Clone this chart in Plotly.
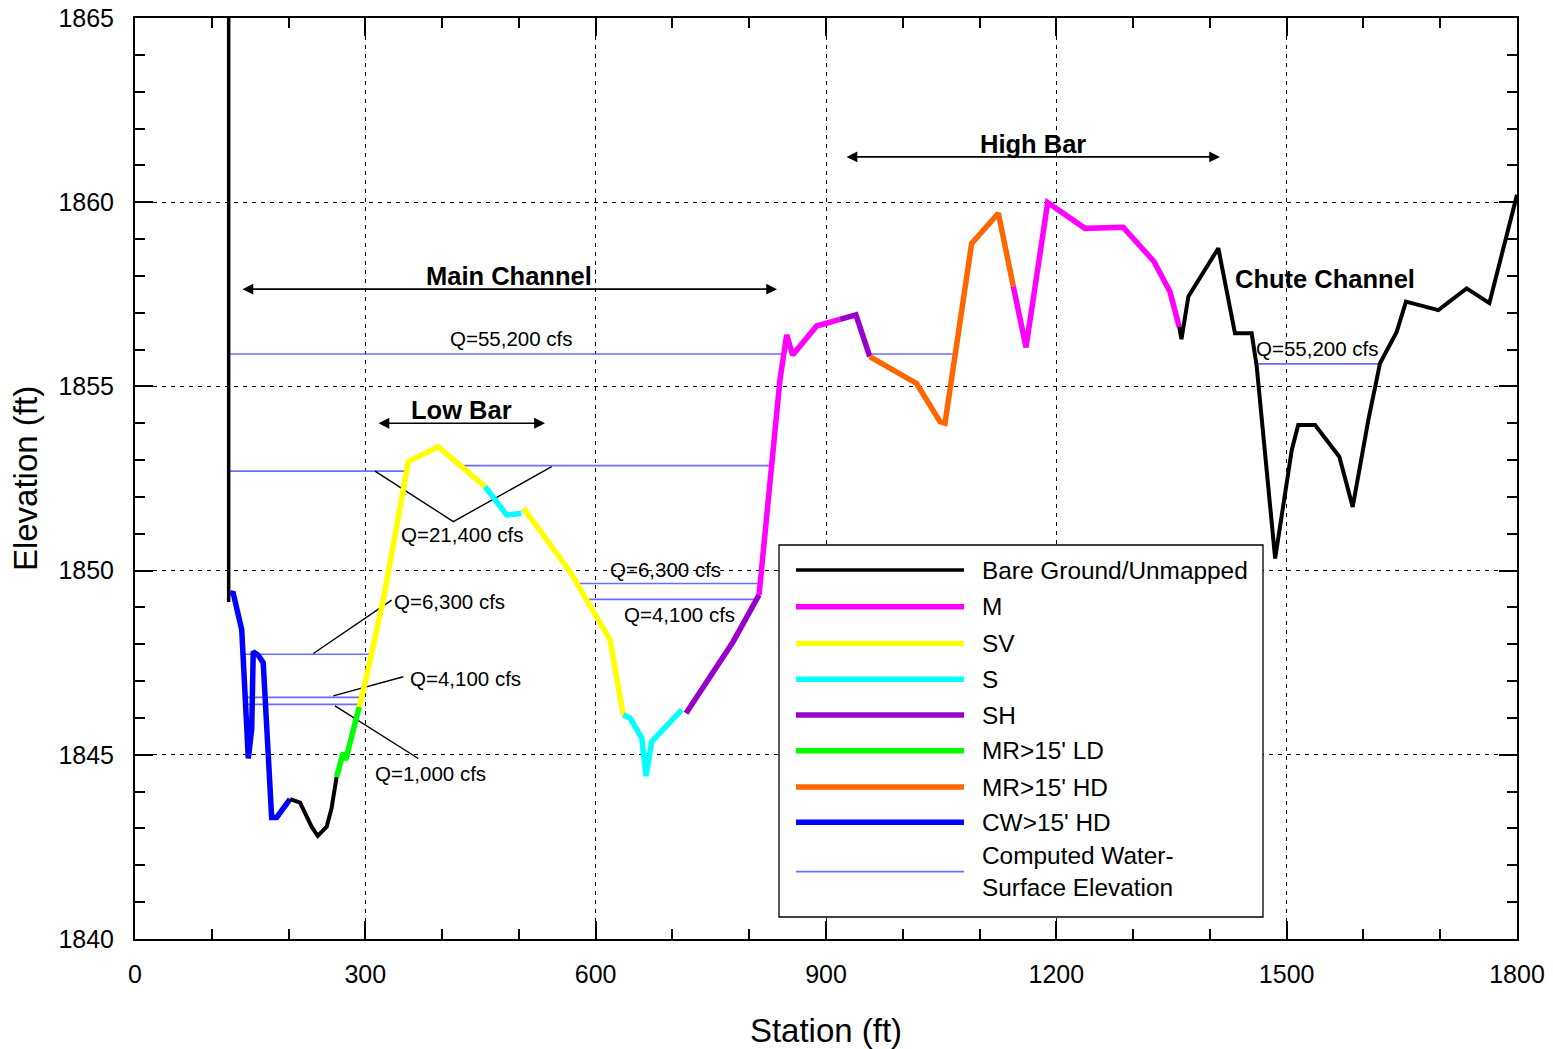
import plotly.graph_objects as go

# ---------------- DATA ----------------
# Ground profile, split into segments by cover class
seg_class = ["Bare", "CW", "Bare", "MRLD", "SV", "S", "SV", "S", "SH", "M", "SH", "MRHD", "M", "Bare"]
seg_station = [
    [122, 122],
    [124, 128, 139, 147.6, 152, 154, 160.6, 167, 178, 184.5, 202],
    [202, 215, 230, 238, 249.7, 256, 262.6],
    [262.6, 269.2, 271.3, 274.4, 292],
    [292, 299.6, 323.4, 351, 356, 395, 456],
    [456, 484, 503],
    [505.8, 566.6, 618.7, 636],
    [636, 644.7, 660, 665.6, 673, 712],
    [717.7, 779, 812.8],
    [812.8, 840, 848.8, 856.5, 887.8, 918.2],
    [918.2, 939, 957],
    [957, 1018, 1048.5, 1055, 1089.7, 1124.5, 1144],
    [1144, 1160.5, 1188.7, 1237.3, 1287, 1327.2, 1348, 1360],
    [1360, 1363, 1372, 1411, 1432.7, 1454.4, 1461, 1485, 1506.6, 1515, 1537,
     1568.6, 1586, 1606.4, 1621.6, 1643.3, 1655.4, 1697.5, 1734.4, 1764, 1800],
]
seg_elev = [
    [1865, 1849.15],
    [1849.4, 1849.38, 1848.4, 1844.9, 1845.7, 1847.8, 1847.7, 1847.5, 1843.3, 1843.3, 1843.8],
    [1843.8, 1843.7, 1843.05, 1842.8, 1843.05, 1843.55, 1844.4],
    [1844.4, 1844.95, 1845.06, 1844.86, 1846.3],
    [1846.3, 1846.94, 1849.2, 1852.3, 1852.96, 1853.36, 1852.28],
    [1852.28, 1851.51, 1851.55],
    [1851.7, 1849.97, 1848.12, 1846.08],
    [1846.08, 1846.0, 1845.45, 1844.42, 1845.36, 1846.22],
    [1846.13, 1848.07, 1849.34],
    [1849.34, 1855.17, 1856.4, 1855.85, 1856.64, 1856.82],
    [1856.82, 1856.94, 1855.81],
    [1855.81, 1855.08, 1854.04, 1854.0, 1858.88, 1859.7, 1857.71],
    [1857.71, 1856.06, 1859.99, 1859.29, 1859.32, 1858.39, 1857.57, 1856.62],
    [1856.62, 1856.28, 1857.44, 1858.75, 1856.44, 1856.44, 1855.54, 1850.33, 1853.27, 1853.95, 1853.95,
     1853.09, 1851.73, 1854.09, 1855.63, 1856.48, 1857.3, 1857.07, 1857.66, 1857.26, 1860.2],
]

# Legend classes
class_keys = ["Bare", "M", "SV", "S", "SH", "MRLD", "MRHD", "CW", "WSE"]
class_labels = ["Bare Ground/Unmapped", "M", "SV", "S", "SH", "MR>15' LD", "MR>15' HD", "CW>15' HD",
                "Computed Water-<br>Surface Elevation"]

# Computed water-surface elevations (discharge, start station, end station, elevation)
wse_q = ["55,200", "55,200", "55,200", "21,400", "21,400", "6,300", "6,300", "4,100", "4,100", "1,000"]
wse_x0 = [123, 957, 1461, 123, 421, 139, 575, 143, 588, 143]
wse_x1 = [846, 1070, 1621.6, 356, 829, 308, 814, 296.5, 809.7, 290]
wse_elev = [1855.88, 1855.88, 1855.61, 1852.70, 1852.85, 1847.73, 1849.65, 1846.56, 1849.22, 1846.37]

# Leader lines for discharge labels
leader_x = [[312.6, 414.6, 542.7], [232.3, 334.3], [258.3, 349.5], [260.5, 369]]
leader_y = [[1852.70, 1851.33, 1852.82], [1847.75, 1849.2], [1846.6, 1847.12], [1846.33, 1844.9]]

# Discharge labels
q_text = ["Q=55,200 cfs", "Q=55,200 cfs", "Q=21,400 cfs", "Q=6,300 cfs", "Q=4,100 cfs",
          "Q=1,000 cfs", "Q=6,300 cfs", "Q=4,100 cfs"]
q_x = [491, 1540.8, 427.2, 409, 431, 385.5, 690.3, 709.8]
q_y = [1856.31, 1856.04, 1850.97, 1849.15, 1847.06, 1844.48, 1850.02, 1848.82]

# Reach arrows (label, start, end, elevation)
reach_label = ["Main Channel", "Low Bar", "High Bar"]
reach_x0 = [138, 315.2, 924.8]
reach_x1 = [836.2, 534, 1413.2]
reach_y = [1857.64, 1854.0, 1861.23]

x_ticks = [0, 300, 600, 900, 1200, 1500, 1800]
y_ticks = [1840, 1845, 1850, 1855, 1860, 1865]

# ---------------- STYLE ----------------
colors = {"Bare": "#000000", "M": "#FF00FF", "SV": "#FFFF00", "S": "#00FFFF", "SH": "#9900CC",
          "MRLD": "#00FF00", "MRHD": "#FF6600", "CW": "#0000FF", "WSE": "#6B6BFF"}
widths = {"Bare": 4, "M": 5.5, "SV": 5.5, "S": 5.5, "SH": 5.5, "MRLD": 5.5, "MRHD": 5.5,
          "CW": 5.5, "WSE": 1.7}
FONT = "Liberation Sans, Arial, sans-serif"

fig = go.Figure()

# water surface lines (below the ground profile)
for q, a, b, e in zip(wse_q, wse_x0, wse_x1, wse_elev):
    fig.add_trace(go.Scatter(x=[a, b], y=[e, e], mode="lines",
                             line=dict(color=colors["WSE"], width=widths["WSE"]),
                             name="Q=" + q + " cfs", showlegend=False, hoverinfo="skip"))

# leader lines
for lx, ly in zip(leader_x, leader_y):
    fig.add_trace(go.Scatter(x=lx, y=ly, mode="lines", line=dict(color="black", width=1.4),
                             showlegend=False, hoverinfo="skip"))

# ground profile segments
for c, xs, ys in zip(seg_class, seg_station, seg_elev):
    w = 3.5 if (c == "Bare" and xs[0] == xs[-1]) else widths[c]
    fig.add_trace(go.Scatter(x=xs, y=ys, mode="lines",
                             line=dict(color=colors[c], width=w, shape="linear"),
                             showlegend=False, name=c))

annotations = []
# discharge labels
for t, x, y in zip(q_text, q_x, q_y):
    annotations.append(dict(x=x, y=y, xref="x", yref="y", text=t, showarrow=False,
                            font=dict(family=FONT, size=20.5, color="black")))
# reach arrows and labels
for lab, a, b, y in zip(reach_label, reach_x0, reach_x1, reach_y):
    annotations.append(dict(x=b, y=y, ax=a, ay=y, xref="x", yref="y", axref="x", ayref="y",
                            text="", showarrow=True, arrowhead=2, startarrowhead=2,
                            arrowside="end+start", arrowsize=1.35, startarrowsize=1.35,
                            arrowwidth=1.6, arrowcolor="black", standoff=0, startstandoff=0))
    annotations.append(dict(x=(a + b) / 2, y=y, xref="x", yref="y", text="<b>" + lab + "</b>",
                            showarrow=False, yanchor="bottom", yshift=-3,
                            font=dict(family=FONT, size=25.5, color="black")))
annotations.append(dict(x=1550, y=1857.92, xref="x", yref="y", text="<b>Chute Channel</b>",
                        showarrow=False, font=dict(family=FONT, size=25.5, color="black")))

# manual legend (paper coordinates)
PX0, PX1, PY0, PY1 = 135.0, 1517.0, 18.0, 939.0
def px(p):
    return (p - PX0) / (PX1 - PX0)
def py(p):
    return (PY1 - p) / (PY1 - PY0)

shapes = [dict(type="rect", xref="paper", yref="paper", x0=px(779), x1=px(1263), y0=py(917), y1=py(545),
               line=dict(color="black", width=1.3), fillcolor="white", layer="above")]
leg_rows = [570, 606.7, 643.5, 679.3, 715, 750.7, 787, 822.3, 871.7]
for k, lab, r in zip(class_keys, class_labels, leg_rows):
    shapes.append(dict(type="line", xref="paper", yref="paper", x0=px(796), x1=px(964), y0=py(r), y1=py(r),
                       line=dict(color=colors[k], width=widths[k] if k != "Bare" else 3.5), layer="above"))
    annotations.append(dict(x=px(980), y=py(r), xref="paper", yref="paper", text=lab, showarrow=False,
                            xanchor="left", yanchor="middle", align="left",
                            font=dict(family=FONT, size=24.4, color="black")))

axis_common = dict(showline=True, linecolor="black", linewidth=2, mirror="ticks",
                   ticks="inside", ticklen=18, tickwidth=1.5, tickcolor="black",
                   showgrid=True, gridcolor="black", gridwidth=1, griddash="4px,5px",
                   zeroline=False, automargin=False,
                   tickfont=dict(family=FONT, size=25, color="black"))

fig.update_layout(
    width=1553, height=1049, autosize=False,
    margin=dict(l=135, r=36, t=18, b=110),
    plot_bgcolor="white", paper_bgcolor="white",
    showlegend=False,
    annotations=annotations, shapes=shapes,
    xaxis=dict(range=[0, 1800], tickvals=x_ticks, ticktext=[str(v) for v in x_ticks],
               minor=dict(dtick=100, tick0=0, ticks="inside", ticklen=10, tickwidth=1.5,
                          tickcolor="black", showgrid=False),
               title=dict(text="Station (ft)", font=dict(family=FONT, size=33, color="black"), standoff=33),
               ticklabelstandoff=12, **axis_common),
    yaxis=dict(range=[1840, 1865], tickvals=y_ticks, ticktext=[str(v) for v in y_ticks],
               minor=dict(dtick=1, tick0=1840, ticks="inside", ticklen=10, tickwidth=1.5,
                          tickcolor="black", showgrid=False),
               title=dict(text="Elevation (ft)", font=dict(family=FONT, size=33, color="black"), standoff=11),
               ticklabelstandoff=14, **axis_common),
)

fig.write_html("out.html", config={"displayModeBar": False},
               post_script="document.body.style.margin='0';document.body.style.overflow='hidden';")
